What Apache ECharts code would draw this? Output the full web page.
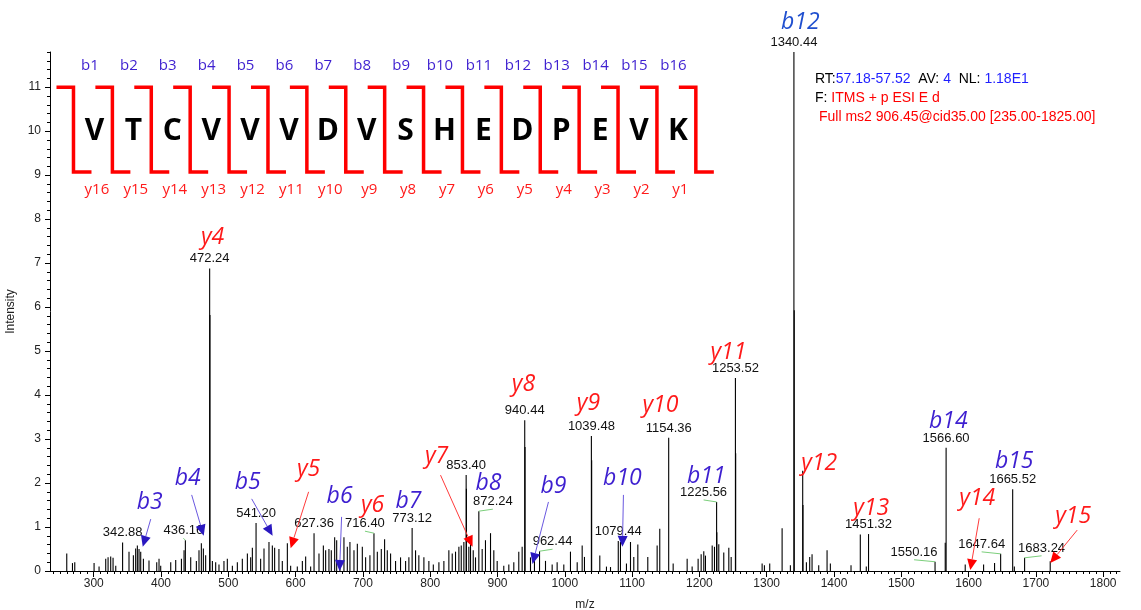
<!DOCTYPE html>
<html>
<head>
<meta charset="utf-8">
<title>MS2 spectrum VTCVVVDVSHEDPEVK</title>
<script src="https://cdn.jsdelivr.net/npm/echarts@6/dist/echarts.min.js"></script>
<style>
html, body { margin: 0; padding: 0; background: #fff; }
#chart { width: 1141px; height: 610px; }
</style>
</head>
<body>
<div id="chart"></div>
<script>
// peptide and its fragment ladder
const residues = ['V', 'T', 'C', 'V', 'V', 'V', 'D', 'V', 'S', 'H', 'E', 'D', 'P', 'E', 'V', 'K']
const bLadder = ['b1', 'b2', 'b3', 'b4', 'b5', 'b6', 'b7', 'b8', 'b9', 'b10', 'b11', 'b12', 'b13', 'b14', 'b15', 'b16']
const yLadder = ['y16', 'y15', 'y14', 'y13', 'y12', 'y11', 'y10', 'y9', 'y8', 'y7', 'y6', 'y5', 'y4', 'y3', 'y2', 'y1']

// tick labels
const xTicks = [300, 400, 500, 600, 700, 800, 900, 1000, 1100, 1200, 1300, 1400, 1500, 1600, 1700, 1800]
const yTicks = [0, 1, 2, 3, 4, 5, 6, 7, 8, 9, 10, 11]

// centroid sticks [m/z, intensity] - the peaks that get an m/z label
const labelledPeaks = [
  [342.88, 0.65], [436.16, 0.70], [472.24, 6.88], [541.20, 1.09], [627.36, 0.86],
  [716.40, 0.86], [773.12, 0.98], [853.40, 2.18], [872.24, 1.36], [940.44, 3.43],
  [962.44, 0.45], [1039.48, 3.07], [1079.44, 0.68], [1154.36, 3.03], [1225.56, 1.57],
  [1253.52, 4.39], [1340.44, 11.8], [1451.32, 0.84], [1550.16, 0.21], [1566.60, 2.80],
  [1647.64, 0.39], [1665.52, 1.86], [1683.24, 0.30]
]

// shoulders of the big peaks (the darker lower part of the sticks)
const shoulderPeaks = [
  [472.7, 5.82], [853.8, 1.87], [940.9, 2.82], [1039.9, 2.52], [1225.9, 0.88],
  [1253.9, 2.68], [1340.9, 5.93], [1353.9, 1.50]
]

// everything else
const otherPeaks = [
  [259.9, 0.40], [268.4, 0.18], [271.8, 0.20], [300.5, 0.18], [307.9, 0.10], [317.8, 0.28],
  [321.3, 0.31], [325.2, 0.33], [328.7, 0.30], [332.7, 0.12], [352.4, 0.44], [358.9, 0.36],
  [362.3, 0.51], [364.8, 0.58], [367.3, 0.50], [369.8, 0.44], [373.8, 0.28], [382.1, 0.24],
  [393.6, 0.20], [397.0, 0.28], [399.5, 0.12], [414.4, 0.20], [421.8, 0.25], [430.3, 0.28],
  [434.2, 0.47], [444.1, 0.31], [452.5, 0.23], [456.4, 0.47], [459.9, 0.63], [462.9, 0.51],
  [466.3, 0.36], [476.3, 0.23], [481.2, 0.20], [486.1, 0.15], [493.5, 0.23], [498.5, 0.28],
  [506.0, 0.12], [513.4, 0.20], [520.8, 0.28], [528.3, 0.40], [533.2, 0.31], [535.7, 0.53],
  [548.0, 0.28], [553.0, 0.51], [560.4, 0.66], [565.4, 0.58], [568.8, 0.53], [575.2, 0.50],
  [580.2, 0.23], [587.7, 0.63], [592.6, 0.12], [602.5, 0.10], [610.0, 0.23], [614.9, 0.33],
  [622.3, 0.10], [634.7, 0.40], [641.2, 0.58], [644.6, 0.47], [649.5, 0.50], [653.0, 0.47],
  [658.0, 0.77], [661.0, 0.70], [665.9, 0.15], [671.8, 0.77], [676.8, 0.55], [680.7, 0.66],
  [686.7, 0.47], [691.7, 0.62], [699.1, 0.55], [704.0, 0.31], [710.4, 0.36], [721.4, 0.44],
  [727.3, 0.50], [732.2, 0.72], [736.2, 0.47], [741.1, 0.40], [748.5, 0.23], [755.9, 0.31],
  [763.4, 0.23], [768.3, 0.31], [778.2, 0.47], [783.1, 0.36], [790.6, 0.31], [798.0, 0.23],
  [804.6, 0.15], [812.9, 0.20], [820.3, 0.23], [827.7, 0.47], [832.7, 0.40], [837.6, 0.44],
  [842.6, 0.55], [846.1, 0.58], [850.0, 0.66], [857.4, 0.55], [859.9, 0.62], [863.9, 0.47],
  [867.3, 0.31], [877.2, 0.50], [882.1, 0.70], [889.6, 0.86], [894.5, 0.47], [899.5, 0.23],
  [909.3, 0.12], [916.8, 0.15], [924.2, 0.20], [931.6, 0.44], [936.6, 0.55], [949.0, 0.31],
  [954.9, 0.33], [971.3, 0.23], [981.2, 0.15], [988.6, 0.20], [998.5, 0.15], [1008.4, 0.44],
  [1018.4, 0.20], [1025.8, 0.58], [1029.2, 0.32], [1052.0, 0.35], [1061.9, 0.10], [1067.9, 0.09],
  [1082.7, 0.66], [1091.6, 0.17], [1097.6, 0.66], [1102.5, 0.32], [1108.5, 0.60], [1123.3, 0.32],
  [1137.2, 0.58], [1141.1, 0.96], [1161.0, 0.17], [1181.8, 0.28], [1189.2, 0.10], [1198.1, 0.28],
  [1202.6, 0.38], [1206.5, 0.45], [1209.0, 0.35], [1219.0, 0.58], [1222.4, 0.55], [1228.8, 0.61],
  [1236.2, 0.42], [1243.7, 0.53], [1247.2, 0.32], [1293.2, 0.17], [1296.6, 0.13], [1304.5, 0.17],
  [1322.9, 0.97], [1335.2, 0.13], [1353.5, 2.28], [1359.0, 0.20], [1363.9, 0.32], [1367.4, 0.38],
  [1377.3, 0.13], [1389.7, 0.47], [1394.6, 0.17], [1425.3, 0.13], [1439.1, 0.83], [1448.0, 0.10],
  [1565.3, 0.64], [1595.0, 0.15], [1622.3, 0.15], [1638.6, 0.18], [1668.0, 0.10], [1721.3, 0.22]
]

// assigned fragment ions
const ionNames = ['b3', 'b4', 'b5', 'y5', 'b6', 'y6', 'b7', 'y7', 'b8', 'b9', 'b10', 'b11',
  'y4', 'y8', 'y9', 'y10', 'y11', 'b12', 'y12', 'y13', 'b14', 'y14', 'b15', 'y15']

// --- layout of the annotations (in m/z / intensity units) ---
const ionLabelAt = [
  [383.2, 1.55], [439.6, 2.11], [528.7, 2.02], [619.3, 2.30], [665.3, 1.70], [714.4, 1.48],
  [767.8, 1.57], [809.4, 2.61], [886.6, 2.00], [983.2, 1.93], [1085.6, 2.11], [1210.4, 2.16],
  [476.7, 7.59], [938.6, 4.25], [1035.1, 3.82], [1142.1, 3.77], [1243.1, 4.98], [1350.0, 12.48],
  [1378.2, 2.45], [1455.4, 1.43], [1569.8, 3.39], [1612.9, 1.66], [1667.8, 2.48], [1755.4, 1.23]
]
const ionArrows = {
  b3: [[384.7, 1.18], [372.8, 0.55]],
  b4: [[445.5, 1.73], [463.4, 0.80]],
  b5: [[534.7, 1.64], [565.8, 0.80]],
  y5: [[619.3, 1.80], [592.6, 0.52]],
  b6: [[668.3, 1.23], [665.3, 0.0]],
  y7: [[815.3, 2.18], [862.9, 0.55]],
  b9: [[975.7, 1.57], [952.0, 0.16]],
  b10: [[1087.1, 1.73], [1085.6, 0.55]],
  y14: [[1615.8, 1.20], [1602.5, 0.02]],
  y15: [[1761.4, 0.93], [1721.3, 0.18]]
}
// m/z labels pushed sideways (px), with a little green leader
const labelShift = { '436.16': -2, '716.40': -9, '872.24': 14, '962.44': 13, '1225.56': -13,
  '1550.16': -21, '1647.64': -19, '1683.24': 17 }

// sequence ladder: first cleavage bracket and bracket spacing, in m/z units
const seqStart = 269.9
const seqStep = 57.8

const xMinor = []
for (let v = 240; v <= 1820; v += 10) xMinor.push(v)
const yMinor = []
for (let k = 0; k <= 59; k++) yMinor.push(Math.round(k * 2) / 10)

const NUM_FONT = '13px "Liberation Sans", Arial, sans-serif'
const ION_FONT = 'italic 23px "Open Sans", sans-serif'
const B_COLOR = '#3d1fd0'
const B12_COLOR = '#1f4fcf'
const Y_COLOR = '#ff1a1a'

const allPeaks = otherPeaks.concat(shoulderPeaks, labelledPeaks)

const renderStick = (params, api) => {
  const top = api.coord([api.value(0), api.value(1)])
  const base = api.coord([api.value(0), 0])
  return {
    type: 'line',
    shape: { x1: top[0], y1: top[1], x2: base[0], y2: base[1] },
    style: { stroke: '#000', lineWidth: 1.1 }
  }
}

const renderPeakLabel = (params, api) => {
  const mz = api.value(0)
  const p = api.coord([mz, api.value(1)])
  const txt = mz.toFixed(2)
  const dx = labelShift[txt] || 0
  const children = [{
    type: 'text',
    x: p[0] + dx,
    y: p[1] - 3,
    style: { text: txt, font: NUM_FONT, fill: '#111', align: 'center', verticalAlign: 'bottom' }
  }]
  if (dx) {
    children.push({
      type: 'line',
      shape: { x1: p[0], y1: p[1], x2: p[0] + dx, y2: p[1] - 2 },
      style: { stroke: '#7ccf7c', lineWidth: 1 }
    })
  }
  return { type: 'group', children: children }
}

const arrowHead = (p0, p1, len, half) => {
  const dx = p1[0] - p0[0]
  const dy = p1[1] - p0[1]
  const d = Math.sqrt(dx * dx + dy * dy) || 1
  const ux = dx / d
  const uy = dy / d
  const bx = p1[0] - ux * len
  const by = p1[1] - uy * len
  return [[p1[0], p1[1]], [bx - uy * half, by + ux * half], [bx + uy * half, by - ux * half]]
}

const renderIon = (params, api) => {
  const name = ionNames[params.dataIndex]
  const isB = name[0] === 'b'
  const color = name === 'b12' ? B12_COLOR : (isB ? B_COLOR : Y_COLOR)
  const at = api.coord([api.value(0), api.value(1)])
  const children = [{
    type: 'text',
    x: at[0],
    y: at[1],
    style: { text: name, font: ION_FONT, fill: color, align: 'center', verticalAlign: 'middle' }
  }]
  const arrow = ionArrows[name]
  if (arrow) {
    const p0 = api.coord(arrow[0])
    const p1 = api.coord(arrow[1])
    const head = arrowHead(p0, p1, 11, 5)
    children.push({
      type: 'line',
      shape: { x1: p0[0], y1: p0[1], x2: (head[1][0] + head[2][0]) / 2, y2: (head[1][1] + head[2][1]) / 2 },
      style: { stroke: isB ? '#6a58e0' : '#ff3b3b', lineWidth: 1 }
    })
    children.push({
      type: 'polygon',
      shape: { points: head },
      style: { fill: isB ? '#2a18c0' : '#ff0000' }
    })
  }
  return { type: 'group', children: children }
}

const bracket = (api, i) => {
  const vx = seqStart + i * seqStep
  const t = api.coord([vx, 11])
  const b = api.coord([vx, 9.07])
  return {
    type: 'polyline',
    shape: { points: [[t[0] - 17, t[1]], [t[0], t[1]], [b[0], b[1]], [b[0] + 18, b[1]]] },
    style: { stroke: '#ff0000', lineWidth: 3.5, fill: null, lineJoin: 'miter' }
  }
}

const renderResidue = (params, api) => {
  const i = params.dataIndex
  const mid = api.coord([api.value(0), api.value(1)])
  const bPos = api.coord([api.value(0), 11.48])
  const yPos = api.coord([api.value(0), 8.66])
  const children = [
    bracket(api, i),
    {
      type: 'text', x: mid[0] + 1.5, y: mid[1],
      style: { text: residues[i], font: 'bold 30px "Open Sans", sans-serif', fill: '#000', align: 'center', verticalAlign: 'middle' }
    },
    {
      type: 'text', x: bPos[0] - 3, y: bPos[1],
      style: { text: bLadder[i], font: '15px "Open Sans", sans-serif', fill: B_COLOR, align: 'center', verticalAlign: 'middle' }
    },
    {
      type: 'text', x: yPos[0] + 4, y: yPos[1],
      style: { text: yLadder[i], font: '15px "Open Sans", sans-serif', fill: Y_COLOR, align: 'center', verticalAlign: 'middle' }
    }
  ]
  if (i === residues.length - 1) children.push(bracket(api, i + 1))
  return { type: 'group', children: children }
}

const chart = echarts.init(document.getElementById('chart'), null, { renderer: 'canvas' })

const AXIS_FONT = { fontSize: 12, color: '#222', fontFamily: '"Liberation Sans", Arial, sans-serif' }
const plainNumber = v => String(v)

chart.setOption({
  animation: false,
  backgroundColor: '#fff',
  grid: { left: 50, right: 21, top: 52, bottom: 39, containLabel: false, outerBoundsMode: 'none' },
  xAxis: [
    {
      type: 'value', min: 235, max: 1825, position: 'bottom',
      name: 'm/z', nameLocation: 'middle', nameGap: 28,
      nameTextStyle: AXIS_FONT,
      axisLine: { show: true, onZero: false, lineStyle: { color: '#000', width: 1 } },
      axisTick: { show: true, customValues: xTicks, length: 6, lineStyle: { color: '#000' } },
      axisLabel: Object.assign({ customValues: xTicks, margin: 7, formatter: plainNumber }, AXIS_FONT),
      splitLine: { show: false }
    },
    {
      type: 'value', min: 235, max: 1825, position: 'bottom',
      axisLine: { show: false, onZero: false },
      axisTick: { show: true, customValues: xMinor, length: 3, lineStyle: { color: '#000' } },
      axisLabel: { show: false },
      splitLine: { show: false }
    }
  ],
  yAxis: [
    {
      type: 'value', min: 0, max: 11.8, position: 'left',
      name: 'Intensity', nameLocation: 'middle', nameGap: 27,
      nameTextStyle: AXIS_FONT,
      axisLine: { show: true, onZero: false, lineStyle: { color: '#000', width: 1 } },
      axisTick: { show: true, customValues: yTicks, length: 5, lineStyle: { color: '#000' } },
      axisLabel: Object.assign({ customValues: yTicks, margin: 9, formatter: plainNumber }, AXIS_FONT),
      splitLine: { show: false }
    },
    {
      type: 'value', min: 0, max: 11.8, position: 'left',
      axisLine: { show: false, onZero: false },
      axisTick: { show: true, customValues: yMinor, length: 3, lineStyle: { color: '#000' } },
      axisLabel: { show: false },
      splitLine: { show: false }
    }
  ],
  series: [
    {
      name: 'spectrum', type: 'custom', clip: false,
      renderItem: renderStick,
      encode: { x: 0, y: 1 },
      data: allPeaks
    },
    {
      name: 'mz labels', type: 'custom', clip: false,
      renderItem: renderPeakLabel,
      encode: { x: 0, y: 1 },
      data: labelledPeaks
    },
    {
      name: 'ions', type: 'custom', clip: false,
      renderItem: renderIon,
      encode: { x: 0, y: 1 },
      data: ionLabelAt
    },
    {
      name: 'sequence', type: 'custom', clip: false,
      renderItem: renderResidue,
      encode: { x: 0, y: 1 },
      data: residues.map((r, i) => [seqStart + (i + 0.5) * seqStep, 10])
    }
  ],
  graphic: [
    {
      type: 'text', left: 815, top: 72,
      style: {
        text: '{k|RT:}{v|57.18-57.52}{k|  AV: }{v|4}{k|  NL: }{v|1.18E1}',
        font: '14px "Liberation Sans", Arial, sans-serif',
        rich: { k: { fill: '#000' }, v: { fill: '#1f1fff' } }
      }
    },
    {
      type: 'text', left: 815, top: 91,
      style: {
        text: '{k|F: }{r|ITMS + p ESI E d}',
        font: '14px "Liberation Sans", Arial, sans-serif',
        rich: { k: { fill: '#000' }, r: { fill: '#ff0000' } }
      }
    },
    {
      type: 'text', left: 819, top: 110,
      style: {
        text: 'Full ms2 906.45@cid35.00 [235.00-1825.00]',
        font: '14px "Liberation Sans", Arial, sans-serif',
        fill: '#ff0000'
      }
    }
  ]
})
</script>
</body>
</html>
